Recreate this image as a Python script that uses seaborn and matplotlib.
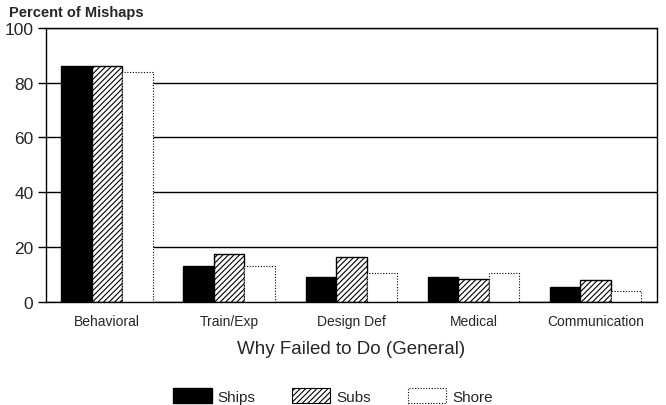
import pandas as pd
import seaborn as sns
import matplotlib.pyplot as plt
from matplotlib.patches import Patch

# values (percent of mishaps)
categories = ['Behavioral', 'Train/Exp', 'Design Def', 'Medical', 'Communication']
ships = [86, 13, 9, 9, 5.3]
subs = [86, 17.3, 16.4, 8.2, 8]
shore = [84, 13.2, 10.5, 10.7, 3.9]
groups = ['Ships', 'Subs', 'Shore']

df = pd.DataFrame({
    'Category': categories * 3,
    'Percent': ships + subs + shore,
    'Group': [g for g in groups for _ in categories],
})

sns.set_style('white')
plt.rcParams['font.family'] = ['Liberation Sans', 'DejaVu Sans']
plt.rcParams['hatch.linewidth'] = 0.8

fig = plt.figure(figsize=(6.66, 4.06), dpi=100)
ax = fig.add_axes([0.069, 0.254, 0.917, 0.675])

sns.barplot(data=df, x='Category', y='Percent', hue='Group', hue_order=groups,
            palette=['black', 'white', 'white'], width=0.75, saturation=1,
            legend=False, ax=ax)

styles = {
    'Ships': dict(hatch=None, ls='-', lw=1.0),
    'Subs': dict(hatch='//////', ls='-', lw=1.0),
    'Shore': dict(hatch=None, ls=(0, (1, 1.5)), lw=0.8),
}
for cont, g in zip(ax.containers, groups):
    for p in cont.patches:
        p.set_edgecolor('black')
        p.set_linewidth(styles[g]['lw'])
        p.set_linestyle(styles[g]['ls'])
        if styles[g]['hatch']:
            p.set_hatch(styles[g]['hatch'])

ax.set_ylim(0, 100)
ax.set_xlim(-0.5, 4.5)
ax.set_yticks([0, 20, 40, 60, 80, 100])
ax.yaxis.grid(True, color='black', lw=1.0)
ax.set_axisbelow(True)
for s in ax.spines.values():
    s.set_color('black')
    s.set_linewidth(1.0)
ax.tick_params(axis='y', left=True, length=6, width=1.0, color='black',
               labelsize=12.5, pad=3)
ax.tick_params(axis='x', bottom=False, labelsize=10, pad=5)
ax.set_ylabel('')
ax.set_xlabel('Why Failed to Do (General)', fontsize=13.5, labelpad=9)
fig.text(0.014, 0.968, 'Percent of Mishaps', fontsize=10.5, fontweight='bold',
         ha='left', va='center')

handles = [
    Patch(facecolor='black', edgecolor='black', lw=1.0),
    Patch(facecolor='white', edgecolor='black', hatch='//////', lw=0.8),
    Patch(facecolor='white', edgecolor='black', ls=(0, (1, 1.5)), lw=0.8),
]
fig.legend(handles, groups, loc='center', bbox_to_anchor=(0.5, 0.022), ncol=3,
           frameon=False, fontsize=11, handlelength=2.5, handleheight=1.1,
           columnspacing=2.4, handletextpad=0.4)

fig.savefig('out.png', dpi=100)
